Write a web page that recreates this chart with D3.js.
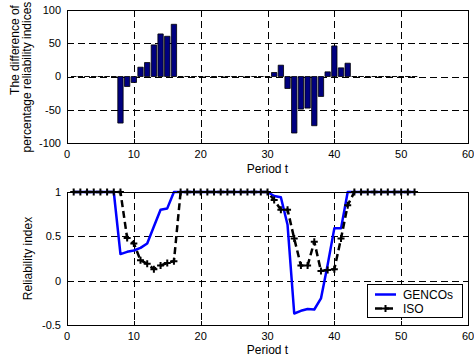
<!DOCTYPE html>
<html>
<head>
<meta charset="utf-8">
<script src="https://cdn.jsdelivr.net/npm/d3@7"></script>
<style>
  html, body { margin: 0; padding: 0; background: #fff; }
  svg { display: block; font-family: "Liberation Sans", Arial, sans-serif; }
</style>
</head>
<body>
<svg id="chart" width="474" height="360"></svg>
<script>
// Periods 1..52
const periods = d3.range(1, 53);

// Reliability index computed by the generating companies
const gencos = [
  1, 1, 1, 1, 1, 1, 1, 0.30, 0.325, 0.34, 0.37, 0.42, 0.61, 0.80, 0.815, 1,
  1, 1, 1, 1, 1, 1, 1, 1, 1, 1, 1, 1, 1, 1,
  0.955, 0.94, 0.63, -0.37, -0.34, -0.32, -0.325, -0.20, 0.18, 0.59, 0.59, 1,
  1, 1, 1, 1, 1, 1, 1, 1, 1, 1
];

// Reliability index computed by the ISO
const iso = [
  1, 1, 1, 1, 1, 1, 1, 1, 0.48, 0.42, 0.23, 0.19, 0.13, 0.17, 0.20, 0.22,
  1, 1, 1, 1, 1, 1, 1, 1, 1, 1, 1, 1, 1, 1,
  0.91, 0.80, 0.80, 0.475, 0.17, 0.17, 0.44, 0.11, 0.12, 0.13, 0.475, 0.85,
  1, 1, 1, 1, 1, 1, 1, 1, 1, 1
];

// Difference of percentage reliability indices per period
const diffValues = [
  0, 0, 0, 0, 0, 0, 0, -70, -15, -9, 14, 21, 47.5, 64, 60.5, 78.5,
  0, 0, 0, 0, 0, 0, 0, 0, 0, 0, 0, 0, 0, 0,
  6, 17, -18, -85, -49, -47.5, -74, -30, 7, 46, 13, 20,
  0, 0, 0, 0, 0, 0, 0, 0, 0, 0
];

const xTicks = [0, 10, 20, 30, 40, 50, 60];
const topYTicks = [-100, -50, 0, 50, 100];
const botYTicks = [-0.5, 0, 0.5, 1];
const botYTickLabels = ["-0.5", "0", "0.5", "1"];
const seriesNames = ["GENCOs", "ISO"];

const svg = d3.select("#chart");
const left = 67, right = 468;
const TICK_FONT = 11, LABEL_FONT = 12;

// dashed grid at the inner ticks
function frame(g, x, y, yTicks) {
  const [x0, x1] = x.range();
  const [y0, y1] = y.range();
  const grid = g.append("g").attr("stroke", "#000").attr("stroke-width", 1)
    .attr("stroke-dasharray", "7,4").attr("shape-rendering", "crispEdges");
  xTicks.slice(1, -1).forEach(t => {
    grid.append("line").attr("x1", Math.round(x(t)) + 0.5).attr("x2", Math.round(x(t)) + 0.5)
      .attr("y1", y1).attr("y2", y0);
  });
  yTicks.slice(1, -1).forEach(t => {
    grid.append("line").attr("y1", Math.round(y(t)) + 0.5).attr("y2", Math.round(y(t)) + 0.5)
      .attr("x1", x0).attr("x2", x1);
  });
}

// axes box, inward ticks and tick labels
function box(g, x, y, yTicks, yLabels) {
  const [x0, x1] = x.range();
  const [y0, y1] = y.range();
  g.append("rect").attr("x", x0 + 0.5).attr("y", y1 + 0.5)
    .attr("width", x1 - x0).attr("height", y0 - y1)
    .attr("fill", "none").attr("stroke", "#000").attr("stroke-width", 1)
    .attr("shape-rendering", "crispEdges");
  const tk = g.append("g").attr("stroke", "#000").attr("shape-rendering", "crispEdges");
  xTicks.forEach(t => {
    const xx = Math.round(x(t)) + 0.5;
    tk.append("line").attr("x1", xx).attr("x2", xx).attr("y1", y0).attr("y2", y0 - 4);
    tk.append("line").attr("x1", xx).attr("x2", xx).attr("y1", y1).attr("y2", y1 + 4);
  });
  yTicks.forEach(t => {
    const yy = Math.round(y(t)) + 0.5;
    tk.append("line").attr("y1", yy).attr("y2", yy).attr("x1", x0).attr("x2", x0 + 4);
    tk.append("line").attr("y1", yy).attr("y2", yy).attr("x1", x1).attr("x2", x1 - 4);
  });
  g.append("g").selectAll("text").data(xTicks).join("text")
    .attr("x", d => x(d)).attr("y", y0 + 15)
    .attr("text-anchor", "middle").attr("font-size", TICK_FONT).text(d => d);
  g.append("g").selectAll("text").data(yTicks).join("text")
    .attr("x", x0 - 6).attr("y", d => y(d)).attr("dy", "0.35em")
    .attr("text-anchor", "end").attr("font-size", TICK_FONT)
    .text((d, i) => yLabels[i]);
}

// ---------- top panel: bar chart of differences ----------
const xTop = d3.scaleLinear().domain([0, 60]).range([left, right]);
const yTop = d3.scaleLinear().domain([-100, 100]).range([143, 10]);
const gTop = svg.append("g");
frame(gTop, xTop, yTop, topYTicks);

const barW = 0.8;
gTop.append("g").selectAll("path").data(periods).join("path")
  .attr("d", (t, i) => {
    const xa = xTop(t - barW / 2), xb = xTop(t + barW / 2);
    const ya = yTop(0), yb = yTop(diffValues[i]);
    return `M${xa},${ya}H${xb}V${yb}H${xa}Z`;
  })
  .attr("fill", "#00007F").attr("stroke", "#000").attr("stroke-width", 0.8);

box(gTop, xTop, yTop, topYTicks, topYTicks.map(String));

gTop.append("text").attr("x", (left + right) / 2).attr("y", 172.5)
  .attr("text-anchor", "middle").attr("font-size", LABEL_FONT).text("Period t");
const yl = gTop.append("text").attr("font-size", LABEL_FONT).attr("text-anchor", "middle")
  .attr("transform", "rotate(-90)");
yl.append("tspan").attr("x", -50).attr("y", 19).text("The difference of");
yl.append("tspan").attr("x", -77).attr("y", 31).text("percentage reliability indices");

// ---------- bottom panel: reliability index lines ----------
const xBot = d3.scaleLinear().domain([0, 60]).range([left, right]);
const yBot = d3.scaleLinear().domain([-0.5, 1]).range([325, 192]);
const gBot = svg.append("g");
frame(gBot, xBot, yBot, botYTicks);

const line = d3.line().x(d => xBot(d[0])).y(d => yBot(d[1]));
const gencoPts = periods.map((t, i) => [t, gencos[i]]);
const isoPts = periods.map((t, i) => [t, iso[i]]);

gBot.append("path").datum(gencoPts).attr("d", line)
  .attr("fill", "none").attr("stroke", "#0000FF").attr("stroke-width", 2.5)
  .attr("stroke-linejoin", "round");
gBot.append("path").datum(isoPts).attr("d", line)
  .attr("fill", "none").attr("stroke", "#000").attr("stroke-width", 2.5)
  .attr("stroke-dasharray", "7,4");

const plus = (g, cx, cy, s) => {
  g.append("path").attr("d", `M${cx - s},${cy}H${cx + s}M${cx},${cy - s}V${cy + s}`)
    .attr("stroke", "#000").attr("stroke-width", 2).attr("fill", "none");
};
const mk = gBot.append("g");
isoPts.forEach(d => plus(mk, xBot(d[0]), yBot(d[1]), 3.5));

box(gBot, xBot, yBot, botYTicks, botYTickLabels);

gBot.append("text").attr("x", (left + right) / 2).attr("y", 354)
  .attr("text-anchor", "middle").attr("font-size", LABEL_FONT).text("Period t");
gBot.append("text").attr("font-size", LABEL_FONT).attr("text-anchor", "middle")
  .attr("transform", "translate(32,258.5) rotate(-90)").text("Reliability index");

// legend
const lg = gBot.append("g");
lg.append("rect").attr("x", 367.5).attr("y", 284.5).attr("width", 95).attr("height", 33)
  .attr("fill", "#fff").attr("stroke", "#000").attr("shape-rendering", "crispEdges");
lg.append("line").attr("x1", 375).attr("x2", 396).attr("y1", 294.5).attr("y2", 294.5)
  .attr("stroke", "#0000FF").attr("stroke-width", 2.5);
lg.append("line").attr("x1", 375).attr("x2", 396).attr("y1", 308.5).attr("y2", 308.5)
  .attr("stroke", "#000").attr("stroke-width", 2.5).attr("stroke-dasharray", "7,4");
plus(lg, 385.5, 308.5, 3.5);
lg.append("text").attr("x", 403).attr("y", 298.5).attr("font-size", LABEL_FONT).text(seriesNames[0]);
lg.append("text").attr("x", 403).attr("y", 312.5).attr("font-size", LABEL_FONT).text(seriesNames[1]);
</script>
</body>
</html>
